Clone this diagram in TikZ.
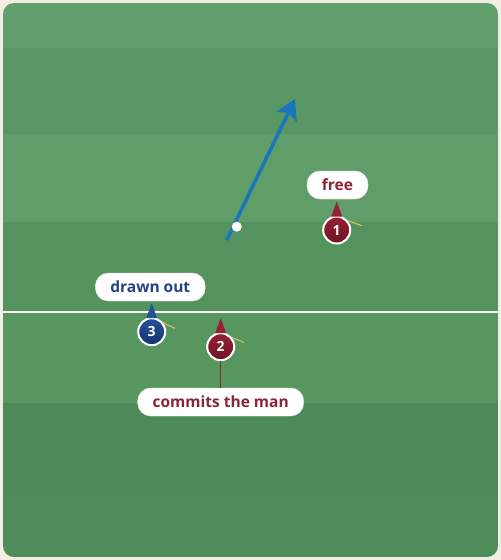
\documentclass[tikz,border=0pt]{standalone}
\usepackage{fontspec}
\setsansfont{Open Sans}
\usetikzlibrary{positioning}
\usetikzlibrary{arrows.meta}
\definecolor{cream}{RGB}{241,239,228}
\definecolor{grassa}{RGB}{97,159,109}
\definecolor{grassb}{RGB}{88,151,99}
\definecolor{grassc}{RGB}{95,157,105}
\definecolor{grassd}{RGB}{85,147,94}
\definecolor{grasse}{RGB}{88,150,96}
\definecolor{grassf}{RGB}{76,138,87}
\definecolor{grassg}{RGB}{79,141,90}
\definecolor{redp}{RGB}{150,32,52}
\definecolor{redpd}{RGB}{112,20,36}
\definecolor{bluep}{RGB}{36,82,150}
\definecolor{bluepd}{RGB}{20,52,112}
\definecolor{redtxt}{RGB}{140,36,52}
\definecolor{bluetxt}{RGB}{36,66,134}
\definecolor{runblue}{RGB}{28,116,186}
\definecolor{facing}{RGB}{222,196,96}
\tikzset{
    player/.style = {circle, draw=white, line width=2pt, minimum size=27pt, inner sep=0pt, text=white, font=\sffamily\bfseries\fontsize{14}{14}\selectfont},
    playerr/.style = {player, top color=redp, bottom color=redpd},
    playerb/.style = {player, top color=bluep, bottom color=bluepd},
    tag/.style = {rectangle, rounded corners=13pt, fill=white, draw=black!8, minimum height=28pt, inner xsep=15pt, font=\sffamily\bfseries\fontsize{15.5}{17}\selectfont},
    tagr/.style = {tag, text=redtxt},
    tagb/.style = {tag, text=bluetxt},
    ballnode/.style = {circle, fill=white, minimum size=10pt, inner sep=0pt},
    pointerr/.style = {fill=redp},
    pointerb/.style = {fill=bluep},
    facestick/.style = {facing, line width=1pt},
    stem/.style = {redpd!80!brown, line width=0.8pt},
    run/.style = {runblue, line width=3.5pt, -{Stealth[length=20pt,width=23pt,inset=5pt]}}
}

\begin{document}
\begin{tikzpicture}[x=1pt,y=-1pt]
%
\fill[cream] (0,0) rectangle (501,560);
\begin{scope}
\clip[rounded corners=11pt] (3,3) rectangle (498,557);
\foreach \ya/\yb/\col in {3/48/grassa, 48/134/grassb, 134/222/grassc, 222/312/grassd, 312/403/grasse, 403/496/grassf, 496/557/grassg}
    \fill[\col] (3,\ya) rectangle (498,\yb);
\end{scope}
\draw[white, line width=2pt] (3,312) -- (498,312);
%
\coordinate (runstart) at (226.7,240);
\coordinate (runend) at (295,99);
\draw[run] (runstart) -- (runend);
\node[ballnode] at (236.7,226.7) (ball) {};
%
\node[playerr] at (336.7,230) (p1) {1};
\node[playerr] at (220.7,346.7) (p2) {2};
\node[playerb] at (151.7,331.7) (p3) {3};
%
\fill[pointerr] ([shift={(-5.5,1)}]p1.north) -- ([shift={(0,-14)}]p1.north) -- ([shift={(5.5,1)}]p1.north) -- cycle;
\fill[pointerr] ([shift={(-5.5,1)}]p2.north) -- ([shift={(0,-14)}]p2.north) -- ([shift={(5.5,1)}]p2.north) -- cycle;
\fill[pointerb] ([shift={(-5.5,1)}]p3.north) -- ([shift={(0,-14)}]p3.north) -- ([shift={(5.5,1)}]p3.north) -- cycle;
%
\draw[facestick] (p1.40) -- ++(14,5);
\draw[facestick] (p2.40) -- ++(12,5);
\draw[facestick] (p3.40) -- ++(12,6);
%
\node[tagr] at (337.5,185) (free) {free};
\node[tagb] at (150.3,287) (drawn) {drawn out};
\node[tagr] at (220.7,402) (commits) {commits the man};
\draw[stem] (p2.south) -- (commits.north);

\path[use as bounding box] (0,0) rectangle (501,560);
\end{tikzpicture}
\end{document}
